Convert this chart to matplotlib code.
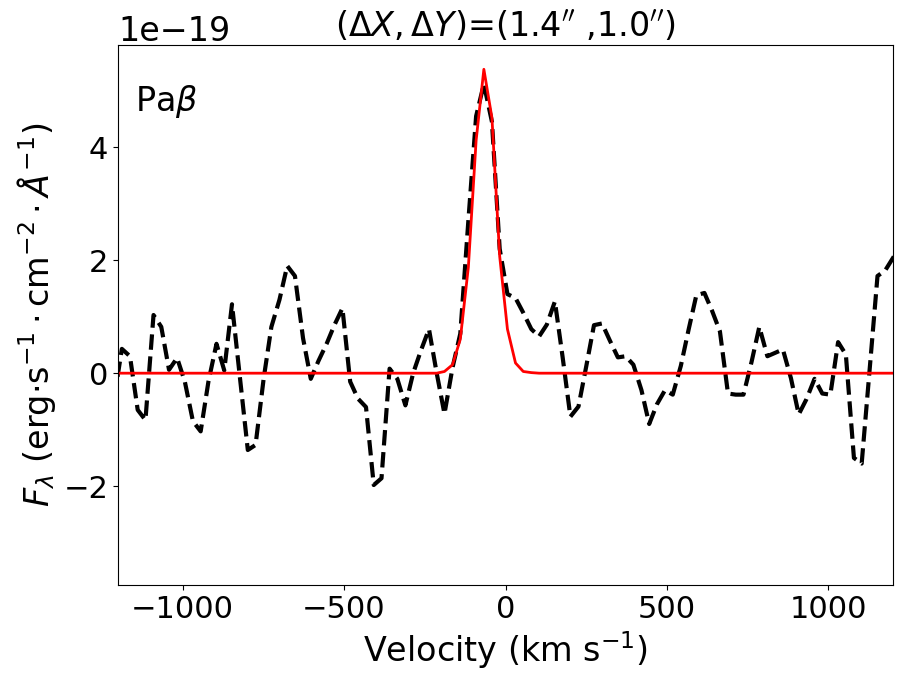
import numpy as np
import matplotlib
matplotlib.use("Agg")
import matplotlib.pyplot as plt

# velocity grid (km/s) of the extracted spectrum
velocity = [-1212, -1188, -1163, -1139, -1115, -1090, -1066, -1042, -1017, -993,
            -968, -944, -920, -895, -871, -847, -822, -798, -774, -749,
            -725, -700, -676, -652, -627, -603, -579, -554, -530, -505,
            -481, -457, -432, -408, -384, -359, -335, -310, -286, -262,
            -237, -213, -189, -164, -140, -115, -91, -67, -42, -18,
            6, 31, 55, 80, 104, 128, 153, 177, 201, 226,
            250, 274, 299, 323, 348, 372, 396, 421, 445, 469,
            494, 518, 543, 567, 591, 616, 640, 664, 689, 713,
            737, 762, 786, 811, 835, 859, 884, 908, 932, 957,
            981, 1006, 1030, 1054, 1079, 1103, 1127, 1152, 1176, 1201,
            1225]

# observed flux (units of 1e-19 erg/s/cm2/A)
flux_obs = [-0.45, 0.43, 0.30, -0.65, -0.83, 1.03, 0.82, 0.06, 0.27, -0.15,
            -0.85, -1.03, -0.15, 0.52, 0.05, 1.22, -0.10, -1.36, -1.27, -0.10,
            0.82, 1.30, 1.90, 1.72, 0.62, -0.10, 0.22, 0.52, 0.85, 1.15,
            -0.15, -0.45, -0.60, -1.98, -1.86, 0.08, -0.10, -0.57, 0.00, 0.40,
            0.78, 0.00, -0.72, 0.10, 0.70, 2.70, 4.55, 5.12, 4.45, 2.20,
            1.40, 1.33, 1.07, 0.78, 0.65, 0.86, 1.27, 0.28, -0.77, -0.59,
            0.12, 0.85, 0.88, 0.58, 0.28, 0.30, 0.15, -0.30, -0.90, -0.55,
            -0.30, -0.38, 0.13, 0.77, 1.38, 1.42, 1.10, 0.74, -0.36, -0.38,
            -0.38, 0.20, 0.82, 0.30, 0.36, 0.42, -0.09, -0.73, -0.46, -0.10,
            -0.36, -0.38, 0.55, 0.33, -1.50, -1.60, 0.02, 1.72, 1.82, 2.05,
            2.30]

# gaussian fit (same units)
flux_fit = ([0.0] * 42
            + [0.03, 0.15, 0.60, 1.88, 4.12, 5.38, 4.52, 2.07, 0.78, 0.18, 0.03, 0.01]
            + [0.0] * 47)

scale = 1e-19
line_name = r'Pa$\beta$'
title = r"$(\Delta X,\Delta Y)$=(1.4$''$ ,1.0$''$)"

v = np.array(velocity)
obs = np.array(flux_obs) * scale
fit = np.array(flux_fit) * scale

fig = plt.figure(figsize=(9.05, 6.85), dpi=100)
ax = fig.add_axes([118 / 905, 1 - 585 / 685, 775 / 905, 540 / 685])

ax.plot(v, obs, color='black', ls='--', lw=3)
ax.plot(v, fit, color='red', lw=2)

ax.set_xlim(-1200, 1200)
ax.set_ylim(-3.75e-19, 5.81e-19)
ax.set_xticks([-1000, -500, 0, 500, 1000])
ax.set_yticks([-2e-19, 0, 2e-19, 4e-19])
ax.tick_params(labelsize=22)
ax.yaxis.get_offset_text().set_fontsize(24)

ax.set_xlabel(r'Velocity (km s$^{-1}$)', fontsize=24)
ax.set_ylabel(r'$F_\lambda$ (erg$\cdot$s$^{-1}\cdot$cm$^{-2}\cdot\AA^{-1}$)', fontsize=24)
ax.set_title(title, fontsize=24)
ax.text(0.022, 0.93, line_name, transform=ax.transAxes, fontsize=24, va='top')

fig.savefig('out.png', dpi=100)
